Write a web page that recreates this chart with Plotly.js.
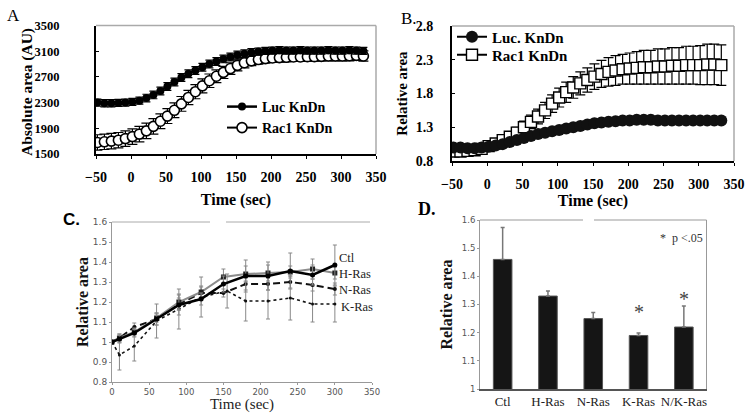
<!DOCTYPE html>
<html><head><meta charset="utf-8">
<script src="https://cdn.plot.ly/plotly-3.0.1.min.js"></script>
<style>html,body{margin:0;padding:0;background:#fff;} #chart{width:750px;height:413px;}</style>
</head><body><div id="chart"></div>
<script>
// ---------- Panel A: absolute area ----------
const timeA = [-48,-38,-28,-18,-8,2,12,22,32,42,52,62,72,82,92,102,112,122,132,142,152,162,172,182,192,202,212,222,232,242,252,262,272,282,292,302,312,322,332];
const lucA = [2300,2290,2290,2295,2300,2310,2330,2370,2420,2480,2550,2620,2690,2750,2800,2850,2900,2940,2980,3010,3040,3060,3080,3095,3105,3110,3115,3110,3110,3115,3110,3110,3110,3115,3110,3110,3115,3110,3105];
const lucAErr = [55,55,55,55,55,55,55,60,60,60,60,60,60,60,60,60,60,60,60,60,60,60,60,55,55,55,55,55,55,55,55,55,55,55,55,55,55,55,55];
const racA = [1680,1690,1700,1715,1740,1770,1810,1860,1930,2010,2090,2180,2280,2380,2470,2560,2640,2710,2770,2830,2880,2920,2950,2970,2985,2995,3000,3005,3010,3010,3015,3015,3020,3025,3025,3025,3030,3035,3025];
const racAErr = [120,120,120,120,120,120,120,120,120,115,115,115,115,110,110,110,105,100,95,90,85,80,75,70,70,70,70,70,70,70,70,70,70,75,75,75,80,80,80];

// ---------- Panel B: relative area ----------
const timeB = [-48,-38,-28,-18,-8,2,12,22,32,42,52,62,72,82,92,102,112,122,132,142,152,162,172,182,192,202,212,222,232,242,252,262,272,282,292,302,312,322,332];
const lucB = [1.00,1.00,0.99,0.99,1.00,1.01,1.03,1.05,1.08,1.11,1.14,1.17,1.20,1.22,1.24,1.26,1.28,1.30,1.32,1.34,1.36,1.37,1.38,1.39,1.40,1.40,1.41,1.41,1.41,1.40,1.40,1.40,1.40,1.40,1.40,1.40,1.40,1.40,1.40];
const lucBErr = [0.02,0.02,0.02,0.02,0.02,0.02,0.02,0.02,0.02,0.02,0.02,0.02,0.02,0.02,0.02,0.02,0.02,0.02,0.02,0.02,0.02,0.02,0.02,0.02,0.02,0.02,0.02,0.02,0.02,0.02,0.02,0.02,0.02,0.02,0.02,0.02,0.02,0.02,0.02];
const racB = [0.94,0.94,0.95,0.96,0.98,1.02,1.06,1.11,1.16,1.22,1.30,1.38,1.46,1.55,1.65,1.74,1.82,1.89,1.95,2.00,2.05,2.09,2.12,2.14,2.16,2.17,2.18,2.19,2.19,2.20,2.20,2.21,2.21,2.22,2.22,2.22,2.23,2.23,2.22];
const racBErr = [0.04,0.04,0.04,0.05,0.05,0.05,0.06,0.06,0.07,0.08,0.09,0.10,0.11,0.12,0.13,0.14,0.15,0.16,0.17,0.18,0.19,0.20,0.21,0.22,0.22,0.23,0.24,0.25,0.25,0.26,0.26,0.27,0.27,0.28,0.28,0.29,0.30,0.30,0.30];

// ---------- Panel C: Ras isoforms time course ----------
const timeC = [0,10,30,60,90,120,150,180,210,240,270,300];
const timeCK = [0,10,30,60,90,120,155,180,210,240,270,300];
const ctlC = [1.00,1.015,1.045,1.115,1.185,1.215,1.29,1.33,1.33,1.355,1.335,1.385];
const ctlCErr = [0,0.02,0.02,0.03,0.05,0.03,0.04,0.08,0.07,0.09,0.05,0.10];
const hrasC = [1.00,1.02,1.05,1.12,1.20,1.25,1.325,1.34,1.345,1.35,1.365,1.345];
const hrasCErr = [0,0.02,0.02,0.02,0.04,0.03,0.04,0.04,0.04,0.03,0.05,0.03];
const nrasC = [1.00,1.02,1.075,1.115,1.19,1.245,1.245,1.29,1.29,1.30,1.285,1.265];
const nrasCErr = [0,0.02,0.02,0.03,0.03,0.03,0.02,0.03,0.03,0.03,0.03,0.03];
const krasC = [1.00,0.935,0.98,1.105,1.165,1.225,1.255,1.205,1.205,1.22,1.19,1.19];
const krasCErr = [0,0.075,0.075,0.085,0.10,0.10,0.085,0.10,0.09,0.11,0.09,0.09];
const seriesLabelsC = ['Ctl','H-Ras','N-Ras','K-Ras'];

// ---------- Panel D: bar chart ----------
const catsD = ['Ctl','H-Ras','N-Ras','K-Ras','N/K-Ras'];
const valsD = [1.46,1.33,1.25,1.19,1.22];
const errD = [0.113,0.018,0.022,0.009,0.075];
const errDminus = [0,0,0,0,0];

const serif = 'Liberation Serif, Times New Roman, serif';
const sans = 'DejaVu Sans, Verdana, sans-serif';
const P = x => x/750;
const Q = y => 1 - y/413;

const traces = [
  // A
  {x: timeA, y: racA, xaxis:'x', yaxis:'y', type:'scatter', mode:'lines+markers', name:'Rac1 KnDn', legend:'legend2',
   line:{color:'#000', width:2}, marker:{symbol:'circle', size:10, color:'#fff', line:{color:'#000', width:1.6}},
   error_y:{type:'data', array:racAErr, visible:true, color:'#000', thickness:1.2, width:5}},
  {x: timeA, y: lucA, xaxis:'x', yaxis:'y', type:'scatter', mode:'lines+markers', name:'Luc KnDn', legend:'legend',
   line:{color:'#000', width:2.5}, marker:{symbol:'circle', size:8, color:'#000'},
   error_y:{type:'data', array:lucAErr, visible:true, color:'#000', thickness:1.2, width:4}},
  // B
  {x: timeB, y: racB, xaxis:'x2', yaxis:'y2', type:'scatter', mode:'lines+markers', name:'Rac1 KnDn', legend:'legend4',
   line:{color:'#000', width:2}, marker:{symbol:'square', size:11, color:'#fff', line:{color:'#000', width:1.4}},
   error_y:{type:'data', array:racBErr, visible:true, color:'#000', thickness:1.2, width:5}},
  {x: timeB, y: lucB, xaxis:'x2', yaxis:'y2', type:'scatter', mode:'lines+markers', name:'Luc. KnDn', legend:'legend3',
   line:{color:'#000', width:2}, marker:{symbol:'circle', size:12, color:'#111'},
   error_y:{type:'data', array:lucBErr, visible:true, color:'#000', thickness:1, width:3}},
  // C
  {x: timeCK, y: krasC, xaxis:'x3', yaxis:'y3', type:'scatter', mode:'lines+markers', name:seriesLabelsC[3], showlegend:false,
   line:{color:'#111', width:1.6, dash:'dot'}, marker:{size:3, color:'#111'},
   error_y:{type:'data', array:krasCErr, visible:true, color:'#888', thickness:1, width:2}},
  {x: timeC, y: nrasC, xaxis:'x3', yaxis:'y3', type:'scatter', mode:'lines+markers', name:seriesLabelsC[2], showlegend:false,
   line:{color:'#111', width:2, dash:'7px,4px'}, marker:{size:4, color:'#111'},
   error_y:{type:'data', array:nrasCErr, visible:true, color:'#888', thickness:1, width:2}},
  {x: timeC, y: hrasC, xaxis:'x3', yaxis:'y3', type:'scatter', mode:'lines+markers', name:seriesLabelsC[1], showlegend:false,
   line:{color:'#8c8c8c', width:2}, marker:{symbol:'square', size:5, color:'#222'},
   error_y:{type:'data', array:hrasCErr, visible:true, color:'#888', thickness:1, width:2}},
  {x: timeC, y: ctlC, xaxis:'x3', yaxis:'y3', type:'scatter', mode:'lines+markers', name:seriesLabelsC[0], showlegend:false,
   line:{color:'#000', width:2.5}, marker:{symbol:'circle', size:5, color:'#000'},
   error_y:{type:'data', array:ctlCErr, visible:true, color:'#888', thickness:1, width:2}},
  // D
  {x: catsD, y: valsD, xaxis:'x4', yaxis:'y4', type:'bar', showlegend:false,
   marker:{color:'#151515', line:{color:'#555', width:1}},
   error_y:{type:'data', symmetric:false, array:errD, arrayminus:errDminus, visible:true, color:'#777', thickness:1.5, width:2}}
];

const axBase = {showgrid:false, zeroline:false, showline:true};
const legBase = {xanchor:'left', yanchor:'middle', bgcolor:'rgba(0,0,0,0)', borderwidth:0,
  font:{family:serif, size:14, weight:'bold', color:'#000'}};

const lineShape = (x0,y0,x1,y1,c,w) => ({type:'line', xref:'paper', yref:'paper', x0:P(x0), y0:Q(y0), x1:P(x1), y1:Q(y1), line:{color:c, width:w}});
const note = (text, x, y, font, xanchor) => ({text:text, xref:'paper', yref:'paper', x:P(x), y:Q(y),
  xanchor:xanchor || 'center', yanchor:'middle', showarrow:false, font:font});

const layout = {
  width:750, height:413, margin:{l:0,r:0,t:0,b:0},
  paper_bgcolor:'#fff', plot_bgcolor:'#fff',
  font:{family:serif, color:'#000'},
  showlegend:true, bargap:0.59,
  legend: Object.assign({x:P(222), y:Q(107)}, legBase),
  legend2: Object.assign({x:P(222), y:Q(128)}, legBase),
  legend3: Object.assign({x:P(452), y:Q(37)}, legBase, {font:{family:serif, size:15, weight:'bold', color:'#000'}}),
  legend4: Object.assign({x:P(452), y:Q(55)}, legBase, {font:{family:serif, size:15, weight:'bold', color:'#000'}}),
  xaxis: Object.assign({}, axBase, {domain:[P(96),P(376)], anchor:'y', range:[-50,350], tick0:-50, dtick:50,
    linecolor:'#000', linewidth:2, ticks:'outside', ticklen:3, tickcolor:'#000',
    tickfont:{family:serif, size:14, weight:'bold'}, ticklabelstandoff:6,
    title:{text:'Time (sec)', font:{family:serif, size:16, weight:'bold'}, standoff:10}}),
  yaxis: Object.assign({}, axBase, {domain:[Q(154),Q(25.5)], anchor:'x', range:[1500,3500], tick0:1500, dtick:400,
    linecolor:'#000', linewidth:2, ticks:'inside', ticklen:3, tickcolor:'#000',
    tickfont:{family:serif, size:12.5, weight:'bold'}, ticklabelstandoff:32}),
  xaxis2: Object.assign({}, axBase, {domain:[P(452),P(734)], anchor:'y2', range:[-50,350], tick0:-50, dtick:50,
    linecolor:'#000', linewidth:2, ticks:'outside', ticklen:3, tickcolor:'#000',
    tickfont:{family:serif, size:14, weight:'bold'}, ticklabelstandoff:6,
    title:{text:'Time (sec)', font:{family:serif, size:16, weight:'bold'}, standoff:2}}),
  yaxis2: Object.assign({}, axBase, {domain:[Q(161),Q(26)], anchor:'x2', range:[0.8,2.8], tick0:0.8, dtick:0.5,
    linecolor:'#000', linewidth:2, ticks:'inside', ticklen:3, tickcolor:'#000',
    tickfont:{family:serif, size:14, weight:'bold'}, ticklabelstandoff:14,
    title:{text:'Relative area', font:{family:serif, size:15, weight:'bold'}, standoff:4}}),
  xaxis3: Object.assign({}, axBase, {domain:[P(112),P(372)], anchor:'y3', range:[0,350], tick0:0, dtick:50,
    linecolor:'#999', linewidth:1, ticks:'outside', ticklen:2, tickcolor:'#999',
    tickfont:{family:sans, size:8.5, color:'#555'},
    title:{text:'Time (sec)', font:{family:serif, size:15, color:'#222'}, standoff:3}}),
  yaxis3: Object.assign({}, axBase, {domain:[Q(382),Q(222)], anchor:'x3', range:[0.8,1.6], tick0:0.8, dtick:0.1,
    linecolor:'#999', linewidth:1, ticks:'outside', ticklen:2, tickcolor:'#999',
    tickfont:{family:sans, size:9, color:'#555'},
    title:{text:'Relative area', font:{family:serif, size:16, weight:'bold', color:'#111'}, standoff:0}}),
  xaxis4: Object.assign({}, axBase, {domain:[P(480),P(706.5)], anchor:'y4', type:'category', range:[-0.5,4.5],
    linecolor:'#555', linewidth:1.5, ticks:'',
    tickfont:{family:serif, size:13, color:'#222'}}),
  yaxis4: Object.assign({}, axBase, {domain:[Q(389),Q(220)], anchor:'x4', range:[1,1.6], tick0:1, dtick:0.1,
    linecolor:'#999', linewidth:1, ticks:'outside', ticklen:2, tickcolor:'#999',
    tickfont:{family:sans, size:8.5, color:'#555'},
    title:{text:'Relative area', font:{family:serif, size:16, weight:'bold', color:'#111'}, standoff:5}}),
  shapes: [
    lineShape(96,25.5,376,25.5,'#aaa',1.5), lineShape(376,25.5,376,154,'#aaa',1.5),
    lineShape(452,26,734,26,'#aaa',1.5), lineShape(734,26,734,161,'#aaa',1.5),
    lineShape(112,222,210,222,'#aaa',1), lineShape(226,222,370,222,'#aaa',1),
    lineShape(480,220,583,220,'#999',1), lineShape(594,220,706.5,220,'#999',1), lineShape(706.5,220,706.5,389,'#999',1)
  ],
  annotations: [
    Object.assign(note('Absolute area (AU)', 27, 92, {family:serif, size:15.5, weight:'bold'}), {textangle:-90}),
    note('A', 13, 15, {family:serif, size:17}),
    note('B.', 409, 18, {family:serif, size:17}),
    note('C.', 71, 219, {family:'Liberation Sans, Arial, sans-serif', size:17, weight:'bold'}),
    note('D.', 427, 209, {family:serif, size:18, weight:'bold'}),
    note(seriesLabelsC[0], 337, 258, {family:serif, size:12.5, color:'#222'}, 'left'),
    note(seriesLabelsC[1], 337, 273.5, {family:serif, size:12.5, color:'#222'}, 'left'),
    note(seriesLabelsC[2], 337, 289.5, {family:serif, size:12.5, color:'#222'}, 'left'),
    note(seriesLabelsC[3], 339, 307, {family:serif, size:12.5, color:'#222'}, 'left'),
    {text:'*', xref:'x4', yref:'y4', x:catsD[3], y:1.275, showarrow:false, font:{family:serif, size:20, color:'#444'}},
    {text:'*', xref:'x4', yref:'y4', x:catsD[4], y:1.32, showarrow:false, font:{family:serif, size:20, color:'#444'}},
    note('*  p <.05', 658, 238, {family:serif, size:12, color:'#333'}, 'left')
  ]
};

Plotly.newPlot('chart', traces, layout, {displayModeBar:false, staticPlot:true});
</script>
</body></html>
